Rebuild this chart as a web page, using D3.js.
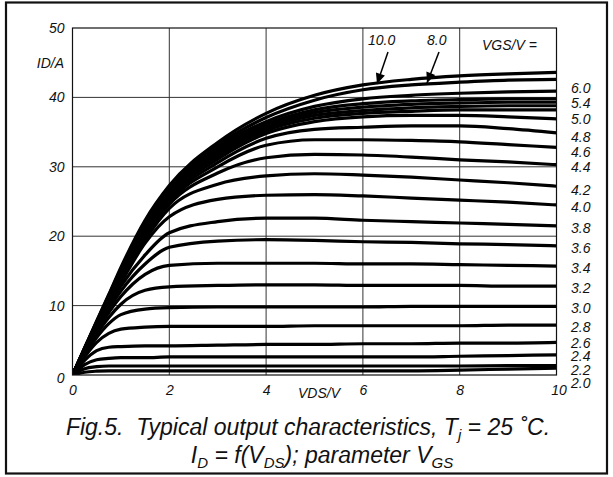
<!DOCTYPE html>
<html><head><meta charset="utf-8">
<script src="https://cdn.jsdelivr.net/npm/d3@7"></script>
<style>
html,body{margin:0;padding:0;background:#fff;}
svg text{font-family:"Liberation Sans",Arial,sans-serif;font-style:italic;fill:#111;}
</style></head>
<body>
<svg id="c" width="613" height="477"></svg>
<script>
// ---- data ----
const vds = [0, 0.25, 0.5, 0.75, 1, 1.5, 2, 3, 4, 5, 6, 7, 8, 9, 10];
const vgsLevels = ["10.0","8.0","6.0","5.8","5.6","5.4","5.2","5.0","4.8","4.6","4.4","4.2","4.0","3.8","3.6","3.4","3.2","3.0","2.8","2.6","2.4","2.2","2.0"];
const id_10_0 = [0,3.9,7.8,11.6,15.5,22.3,27.3,33.5,37.7,40.3,41.8,42.6,43.1,43.4,43.6];
const id_8_0  = [0,3.9,7.7,11.5,15.3,22.1,27.0,33.1,37.1,39.6,41.1,41.8,42.2,42.5,42.6];
const id_6_0  = [0,3.8,7.6,11.3,15.0,21.8,26.6,32.8,36.5,38.7,39.8,40.3,40.6,40.8,40.9];
const id_5_8  = [0,3.8,7.6,11.3,14.9,21.6,26.4,32.4,36.1,38.2,39.1,39.5,39.7,39.8,39.8];
const id_5_6  = [0,3.8,7.5,11.2,14.8,21.4,26.2,32.1,35.8,37.8,38.6,39.0,39.2,39.3,39.3];
const id_5_4  = [0,3.8,7.5,11.1,14.7,21.2,26.0,31.8,35.5,37.4,38.1,38.5,38.7,38.8,38.8];
const id_5_2  = [0,3.7,7.4,11.0,14.6,21.0,25.8,31.5,35.2,37.0,37.7,38.0,38.2,38.2,38.2];
const id_5_0  = [0,3.7,7.4,11.0,14.5,20.8,25.6,31.1,34.8,36.5,37.2,37.4,37.4,37.2,36.9];
const id_4_8  = [0,3.7,7.3,10.9,14.3,20.5,25.3,30.6,34.1,35.4,35.7,35.9,35.9,35.5,34.9];
const id_4_6  = [0,3.7,7.3,10.8,14.1,20.2,25.0,30.0,33.1,33.9,33.9,33.8,33.6,33.2,32.8];
const id_4_4  = [0,3.6,7.2,10.7,13.9,19.9,24.6,29.1,31.3,31.8,31.7,31.4,31.0,30.7,30.3];
const id_4_2  = [0,3.6,7.1,10.5,13.7,19.5,24.0,27.5,28.7,29.0,28.8,28.5,28.1,27.7,27.2];
const id_4_0  = [0,3.6,7.0,10.3,13.3,19.0,22.8,25.3,25.9,26.0,25.8,25.5,25.2,24.9,24.5];
const id_3_8  = [0,3.5,6.9,10.0,12.8,17.3,20.5,22.1,22.6,22.6,22.3,22.1,21.9,21.7,21.5];
const id_3_6  = [0,3.4,6.6,9.5,12.1,16.0,18.4,19.3,19.5,19.4,19.2,19.1,18.9,18.8,18.6];
const id_3_4  = [0,3.3,6.3,9.0,11.3,14.5,15.8,16.1,16.1,16.1,16.0,16.0,15.9,15.8,15.7];
const id_3_2  = [0,3.1,5.9,8.3,10.2,12.2,12.7,12.9,13.0,13.0,12.9,12.9,12.9,12.8,12.8];
const id_3_0  = [0,2.9,5.4,7.4,8.7,9.5,9.7,9.8,9.8,9.8,9.8,9.9,9.9,9.9,9.9];
const id_2_8  = [0,2.6,4.7,6.0,6.6,6.9,7.0,7.0,7.0,7.1,7.1,7.1,7.1,7.2,7.2];
const id_2_6  = [0,2.1,3.5,4.0,4.1,4.2,4.2,4.3,4.4,4.4,4.5,4.5,4.6,4.6,4.7];
const id_2_4  = [0,1.5,2.2,2.4,2.5,2.5,2.6,2.6,2.6,2.6,2.6,2.6,2.7,2.8,2.9];
const id_2_2  = [0,0.9,1.2,1.3,1.3,1.3,1.3,1.3,1.3,1.3,1.3,1.3,1.3,1.35,1.35];
const id_2_0  = [0,0.4,0.55,0.6,0.6,0.6,0.6,0.6,0.6,0.6,0.6,0.6,0.7,0.85,1.0];
const seriesList = [id_10_0,id_8_0,id_6_0,id_5_8,id_5_6,id_5_4,id_5_2,id_5_0,id_4_8,id_4_6,id_4_4,id_4_2,id_4_0,id_3_8,id_3_6,id_3_4,id_3_2,id_3_0,id_2_8,id_2_6,id_2_4,id_2_2,id_2_0];
const xTicks = [0,2,4,6,8,10];
const yTicks = [0,10,20,30,40,50];
const rightLabels = ["6.0","5.4","5.0","4.8","4.6","4.4","4.2","4.0","3.8","3.6","3.4","3.2","3.0","2.8","2.6","2.4","2.2","2.0"];
const rightLabelY = [88,103,119,137,152,167,190,207,228,248,268,288,308,327,343,356,370,383]; // pixel centres of labels as read

// ---- drawing ----
const svg = d3.select("#c");
const L = 72.5, R = 556.5, T = 28, B = 375;
const x = d3.scaleLinear().domain([0,10]).range([L,R]);
const y = d3.scaleLinear().domain([0,50]).range([B,T]);

// outer frame
svg.append("rect").attr("x",6).attr("y",2.5).attr("width",601).attr("height",471)
  .attr("fill","none").attr("stroke","#111").attr("stroke-width",2.2);

// grid
const g = svg.append("g");
g.selectAll(".vg").data(xTicks.slice(1,-1)).enter().append("line")
  .attr("x1",d=>x(d)).attr("x2",d=>x(d)).attr("y1",T).attr("y2",B)
  .attr("stroke","#333").attr("stroke-width",1);
g.selectAll(".hg").data(yTicks.slice(1,-1)).enter().append("line")
  .attr("y1",d=>y(d)).attr("y2",d=>y(d)).attr("x1",L).attr("x2",R)
  .attr("stroke","#333").attr("stroke-width",1);

// axes (no tick marks) via d3 axis for labels
const xAxis = d3.axisBottom(x).tickValues(xTicks).tickSize(0).tickPadding(10).tickFormat(d3.format("d"));
const xa = svg.append("g").attr("transform",`translate(0,${B})`).call(xAxis);
xa.select(".domain").remove();
xa.selectAll("text").attr("font-size",14).attr("fill","#111").style("font-family",'"Liberation Sans",Arial,sans-serif').style("font-style","italic");
xa.selectAll(".tick").filter(d=>d===10).select("text").attr("dx",2);
const yAxis = d3.axisLeft(y).tickValues(yTicks).tickSize(0).tickPadding(8).tickFormat(d3.format("d"));
const ya = svg.append("g").attr("transform",`translate(${L},0)`).call(yAxis);
ya.select(".domain").remove();
ya.selectAll("text").attr("font-size",14).attr("fill","#111").style("font-family",'"Liberation Sans",Arial,sans-serif').style("font-style","italic");
ya.selectAll(".tick").filter(d=>d===0).select("text").attr("dy","0.55em");

// clip
svg.append("clipPath").attr("id","pc").append("rect").attr("x",L).attr("y",T).attr("width",R-L).attr("height",B-T);

// curves
const line = d3.line().x((d,i)=>x(vds[i])).y(d=>y(d)).curve(d3.curveMonotoneX);
svg.append("g").attr("clip-path","url(#pc)").selectAll("path").data(seriesList).enter().append("path")
  .attr("d",d=>line(d)).attr("fill","none").attr("stroke","#000").attr("stroke-width",3.2)
  .attr("stroke-linejoin","round").attr("stroke-linecap","round");

// plot border
svg.append("rect").attr("x",L).attr("y",T).attr("width",R-L).attr("height",B-T)
  .attr("fill","none").attr("stroke","#111").attr("stroke-width",1.2);

// axis titles
svg.append("text").attr("x",64).attr("y",68).attr("text-anchor","end").attr("font-size",14).text("ID/A");
svg.append("text").attr("x",298).attr("y",398).attr("font-size",14).text("VDS/V");

// right labels
svg.selectAll(".rl").data(rightLabels).enter().append("text")
  .attr("x",571).attr("y",(d,i)=>rightLabelY[i]+5).attr("font-size",14).text(d=>d);
svg.append("text").attr("x",482).attr("y",50).attr("font-size",14).text("VGS/V =");
svg.append("text").attr("x",368).attr("y",45).attr("font-size",14).text("10.0");
svg.append("text").attr("x",427).attr("y",45).attr("font-size",14).text("8.0");

// arrows
svg.append("defs").append("marker").attr("id","ah").attr("viewBox","0 0 10 10").attr("refX",10).attr("refY",5)
  .attr("markerWidth",8).attr("markerHeight",7).attr("orient","auto").attr("markerUnits","strokeWidth")
  .append("path").attr("d","M0,0.5 L10,5 L0,9.5 Z").attr("fill","#000");
[[388,52,377,84],[439,52,427,83]].forEach(a=>{
  svg.append("line").attr("x1",a[0]).attr("y1",a[1]).attr("x2",a[2]).attr("y2",a[3])
    .attr("stroke","#000").attr("stroke-width",1.5).attr("marker-end","url(#ah)");
});

// caption
const c1 = svg.append("text").attr("x",308).attr("y",435).attr("text-anchor","middle").attr("font-size",23);
c1.append("tspan").text("Fig.5.\u00A0\u00A0Typical output characteristics, T");
c1.append("tspan").attr("font-size",15).attr("dy",5).text("j");
c1.append("tspan").attr("dy",-5).text(" = 25 \u02DAC.");
const c2 = svg.append("text").attr("x",322).attr("y",463).attr("text-anchor","middle").attr("font-size",23);
c2.append("tspan").text("I");
c2.append("tspan").attr("font-size",15).attr("dy",5).text("D");
c2.append("tspan").attr("dy",-5).text(" = f(V");
c2.append("tspan").attr("font-size",15).attr("dy",5).text("DS");
c2.append("tspan").attr("dy",-5).text("); parameter V");
c2.append("tspan").attr("font-size",15).attr("dy",5).text("GS");
</script>
</body></html>
